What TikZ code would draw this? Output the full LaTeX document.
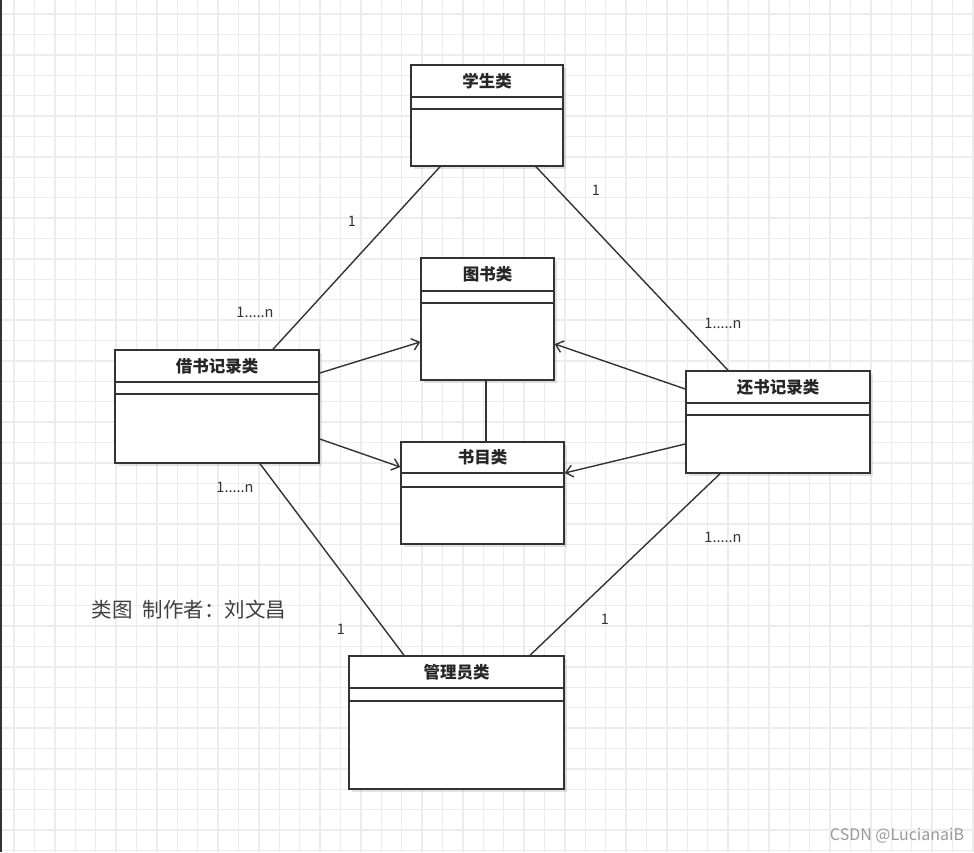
\documentclass[tikz,border=0pt]{standalone}
\usepackage{fontspec}
\newfontfamily\cjk{Noto Sans CJK SC}
\usetikzlibrary{arrows.meta,fit,shadows,calc}
\definecolor{linec}{HTML}{333333}
\definecolor{gridc}{HTML}{ECECEC}
\newcommand{\umlclass}[8]{%
  \node[clsbox, fit={(#2,#3) (#4,#5)}] (#1) {};
  \draw[clsline] (#2,#6) -- (#4,#6);
  \draw[clsline] (#2,#7) -- (#4,#7);
  \node[hdr] (#1t) at ({(#2+#4)/2},{(#3+#6)/2}) {#8};
}
\begin{document}
\begin{tikzpicture}[x=1pt,y=-1pt,
  gridl/.style={gridc, line width=1.4pt},
  clsbox/.style={draw=linec, line width=1.5pt, fill=white, inner sep=0pt,
    drop shadow={shadow xshift=3pt, shadow yshift=-3pt, opacity=0.22}},
  clsline/.style={linec, line width=1.5pt},
  hdr/.style={font=\cjk\bfseries\fontsize{16.5}{18}\selectfont, text=black!85, inner sep=0pt},
  conn/.style={linec, line width=1.4pt},
  arr/.style={conn, -{Straight Barb[length=7pt,width=12pt]}},
  mult/.style={font=\cjk\fontsize{14.5}{16}\selectfont, text=linec, inner sep=1pt},
]
\fill[white] (0,0) rectangle (974,852);
\useasboundingbox (0,0) rectangle (974,852);
\foreach \i in {0,...,47} \draw[gridl] ({14+20.4*\i},0) -- ({14+20.4*\i},852);
\foreach \j in {0,...,41} \draw[gridl] (0,{14+20.4*\j}) -- (974,{14+20.4*\j});
\draw[line width=1.6pt, black!80] (0.8,0) -- (0.8,852);

\umlclass{stu}{411}{65}{563}{166}{97}{109}{学生类}
\umlclass{book}{421}{258}{554}{380}{291}{303}{图书类}
\umlclass{borrow}{115}{350}{319}{463}{382}{394}{借书记录类}
\umlclass{ret}{686}{371}{870}{473}{403}{415}{还书记录类}
\umlclass{cat}{401}{442}{564}{544}{473}{487}{书目类}
\umlclass{admin}{349}{656}{564}{789}{688}{701}{管理员类}

% associations
\draw[conn] (stu.south -| 440,0) -- (borrow.north -| 273,0);
\draw[conn] (stu.south -| 536,0) -- (ret.north -| 728,0);
\draw[conn] (borrow.south -| 260,0) -- (admin.north -| 404,0);
\draw[conn] (ret.south -| 720,0) -- (admin.north -| 530,0);
\draw[conn] (book.south -| 486,0) -- (cat.north -| 486,0);
% directed
\draw[arr] (borrow.east |- 0,373) -- (book.west |- 0,342);
\draw[arr] (borrow.east |- 0,439) -- (cat.west |- 0,467);
\draw[arr] (ret.west |- 0,389) -- (book.east |- 0,344);
\draw[arr] (ret.west |- 0,444) -- (cat.east |- 0,473);

% multiplicities
\node[mult] (m1) at (352,221) {1};
\node[mult] (m2) at (255,312) {1.....n};
\node[mult] (m3) at (596,190) {1};
\node[mult] (m4) at (723,323) {1.....n};
\node[mult] (m5) at (235,487) {1.....n};
\node[mult] (m6) at (341,629) {1};
\node[mult] (m7) at (723,537) {1.....n};
\node[mult] (m8) at (605,619) {1};

\node[font=\cjk\fontsize{20.5}{22}\selectfont, text=black!75] (cap) at (189,610) {类图\hspace{0.5em}制作者：刘文昌};
\node[font=\cjk\fontsize{16}{18}\selectfont, text=gray!80] (wm) at (897,836) {CSDN @LucianaiB};
\end{tikzpicture}
\end{document}
